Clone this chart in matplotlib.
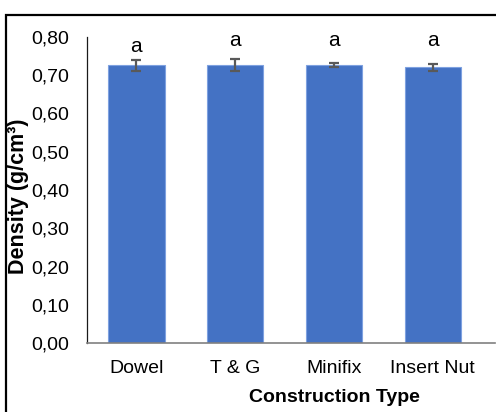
import matplotlib.pyplot as plt
from matplotlib.patches import Rectangle

plt.rcParams['font.family'] = ['Liberation Sans', 'DejaVu Sans']

# density per construction type (mean and std)
types = ['Dowel', 'T & G', 'Minifix', 'Insert Nut']
density = [0.726, 0.727, 0.726, 0.721]
density_sd = [0.0145, 0.015, 0.0055, 0.009]
groups = ['a', 'a', 'a', 'a']
group_y = [0.774, 0.792, 0.792, 0.792]
yticks = [0.0, 0.1, 0.2, 0.3, 0.4, 0.5, 0.6, 0.7, 0.8]

fig = plt.figure(figsize=(4.96, 4.12), dpi=100)
ax = fig.add_axes([87 / 496, 69 / 412, 408 / 496, 306 / 412])

x = range(len(types))
ax.bar(x, density, width=0.57, color='#4472C4', edgecolor='#7EA1E0',
       linewidth=0.8, zorder=2)
ax.errorbar(x, density, yerr=density_sd, fmt='none', ecolor='#595959',
            elinewidth=1.6, capsize=3.5, capthick=1.6, zorder=3)

for i, g in enumerate(groups):
    ax.text(i, group_y[i], g, ha='center', va='center', fontsize=15)

ax.set_xlim(-0.5, 3.63)
ax.set_ylim(0, 0.8)
ax.set_xticks(list(x))
ax.set_xticklabels(types, fontsize=14)
ax.set_yticks(yticks)
ax.set_yticklabels([f'{v:.2f}'.replace('.', ',') for v in yticks], fontsize=14)
ax.tick_params(axis='both', length=0)
ax.tick_params(axis='y', pad=13)
ax.tick_params(axis='x', pad=12)

for s in ['top', 'right']:
    ax.spines[s].set_visible(False)
ax.spines['left'].set_color('#1a1a1a')
ax.spines['left'].set_linewidth(0.9)
ax.spines['bottom'].set_color('#808080')
ax.spines['bottom'].set_linewidth(1.2)

fig.text(19 / 496, 1 - 196 / 412, 'Density (g/cm³)', rotation=90,
         ha='center', va='center', fontsize=15.5, fontweight='bold')
fig.text(334 / 496, 1 - 398 / 412, 'Construction Type', ha='center',
         va='center', fontsize=14, fontweight='bold')

# outer frame around the chart area
fig.patches.append(Rectangle((6 / 496, -0.2), 1.2, 0.2 + (1 - 15 / 412),
                             transform=fig.transFigure, fill=False,
                             edgecolor='black', linewidth=1.6))

fig.savefig('out.png', dpi=100)
